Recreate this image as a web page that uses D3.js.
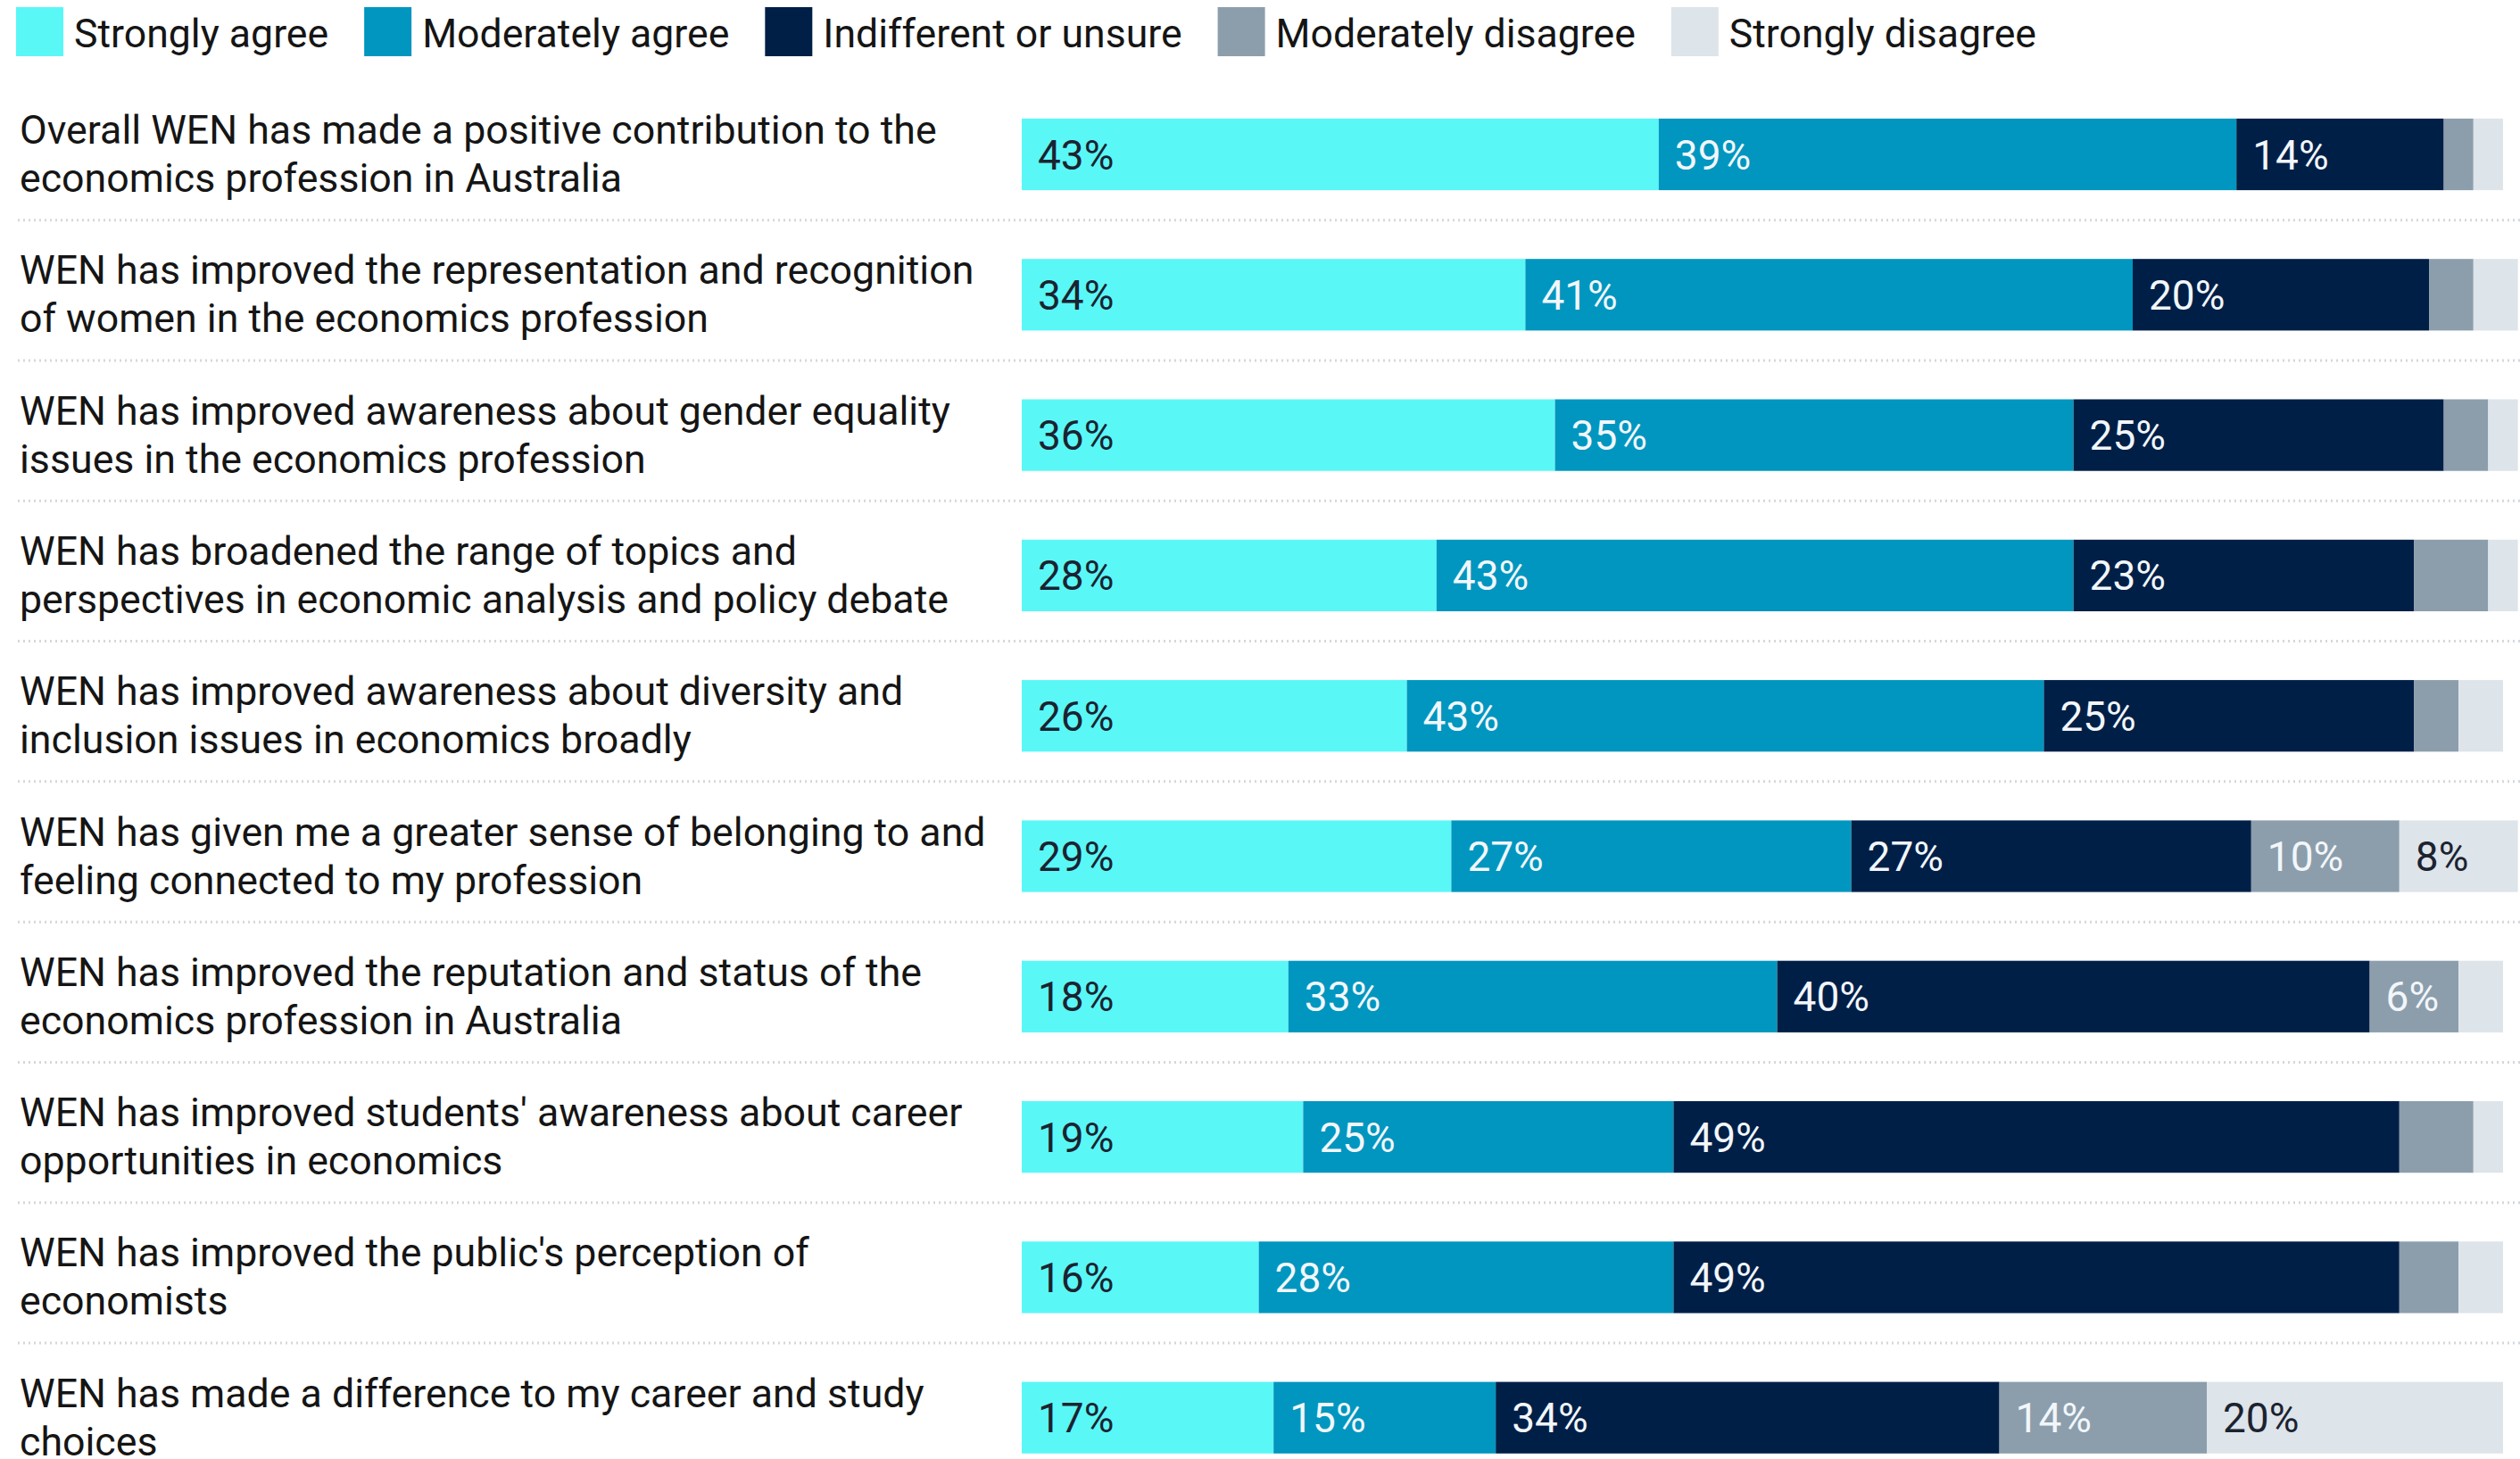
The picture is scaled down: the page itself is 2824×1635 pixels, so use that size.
<!DOCTYPE html>
<html>
<head>
<meta charset="utf-8">
<script src="https://cdn.jsdelivr.net/npm/d3@7"></script>
<style>
  body { margin: 0; background: #fff; }
  svg { display: block; font-family: Roboto, "Noto Sans", sans-serif; }
</style>
</head>
<body>
<svg width="2824" height="1635"></svg>
<script>
"use strict";

// response categories, left to right
var categories = ["Strongly agree", "Moderately agree", "Indifferent or unsure", "Moderately disagree", "Strongly disagree"];
var colors = ["#5af7f7", "#0096bf", "#001f47", "#8c9eac", "#dde4ea"];
var labelColors = ["#1b2330", "#f2f6fa", "#f2f6fa", "#f2f6fa", "#1b2330"];

// statements, each split into its two printed lines
var statements = [
  ["Overall WEN has made a positive contribution to the", "economics profession in Australia"],
  ["WEN has improved the representation and recognition", "of women in the economics profession"],
  ["WEN has improved awareness about gender equality", "issues in the economics profession"],
  ["WEN has broadened the range of topics and", "perspectives in economic analysis and policy debate"],
  ["WEN has improved awareness about diversity and", "inclusion issues in economics broadly"],
  ["WEN has given me a greater sense of belonging to and", "feeling connected to my profession"],
  ["WEN has improved the reputation and status of the", "economics profession in Australia"],
  ["WEN has improved students' awareness about career", "opportunities in economics"],
  ["WEN has improved the public's perception of", "economists"],
  ["WEN has made a difference to my career and study", "choices"]
];

// percentages per category (one value per statement)
var stronglyAgree      = [43, 34, 36, 28, 26, 29, 18, 19, 16, 17];
var moderatelyAgree    = [39, 41, 35, 43, 43, 27, 33, 25, 28, 15];
var indifferent        = [14, 20, 25, 23, 25, 27, 40, 49, 49, 34];
var moderatelyDisagree = [ 2,  3,  3,  5,  3, 10,  6,  5,  4, 14];
var stronglyDisagree   = [ 2,  3,  2,  2,  3,  8,  3,  2,  3, 20];

var series = [stronglyAgree, moderatelyAgree, indifferent, moderatelyDisagree, stronglyDisagree];

var svg = d3.select("svg");

var rows = statements.map(function(s, i) {
  var r = { id: i };
  categories.forEach(function(c, j) { r[c] = series[j][i]; });
  return r;
});

var stacked = d3.stack().keys(categories)(rows);

var x = d3.scaleLinear().domain([0, 100]).range([1145, 2805]);
var y = d3.scaleBand()
    .domain(d3.range(statements.length))
    .range([94.35, 1667.35])
    .paddingInner(0.49)
    .paddingOuter(0.245);

// dotted separators between rows
svg.append("g")
  .selectAll("line")
  .data(d3.range(statements.length - 1))
  .enter()
    .append("line")
    .attr("x1", 20)
    .attr("x2", 2824)
    .attr("y1", function(i) { return y(i) + y.bandwidth() + (y.step() - y.bandwidth()) / 2 - 5; })
    .attr("y2", function(i) { return y(i) + y.bandwidth() + (y.step() - y.bandwidth()) / 2 - 5; })
    .attr("stroke", "#d4d8dc")
    .attr("stroke-width", 3)
    .attr("stroke-dasharray", "2,4");

// statement labels
var labels = svg.append("g")
  .selectAll("text")
  .data(statements)
  .enter()
    .append("text")
    .attr("x", 22)
    .attr("y", function(d, i) { return y(i) + y.bandwidth() / 2 - 12; })
    .attr("fill", "#151515")
    .style("font-size", "44.7px");

labels.selectAll("tspan")
  .data(function(d) { return d; })
  .enter()
    .append("tspan")
    .attr("x", 22)
    .attr("dy", function(d, i) { return i === 0 ? 0 : 54; })
    .text(function(d) { return d; });

// stacked bars
var layer = svg.append("g")
  .selectAll("g")
  .data(stacked)
  .enter()
    .append("g")
    .attr("fill", function(d, i) { return colors[i]; });

layer.selectAll("rect")
  .data(function(d) { return d; })
  .enter()
    .append("rect")
    .attr("x", function(d) { return x(d[0]); })
    .attr("y", function(d) { return y(d.data.id); })
    .attr("width", function(d) { return x(d[1]) - x(d[0]); })
    .attr("height", y.bandwidth());

// value labels (small segments stay unlabelled)
stacked.forEach(function(s, k) {
  svg.append("g")
    .selectAll("text")
    .data(s.filter(function(d) { return d[1] - d[0] >= 6; }))
    .enter()
      .append("text")
      .attr("x", function(d) { return x(d[0]) + 18; })
      .attr("y", function(d) { return y(d.data.id) + y.bandwidth() / 2 + 16.5; })
      .attr("fill", labelColors[k])
      .style("font-size", "46px")
      .text(function(d) { return (d[1] - d[0]) + "%"; });
});

// legend
var legend = svg.append("g");
var lx = 18;
categories.forEach(function(c, i) {
  legend.append("rect")
    .attr("x", lx)
    .attr("y", 8)
    .attr("width", 53)
    .attr("height", 55)
    .attr("fill", colors[i]);
  var t = legend.append("text")
    .attr("x", lx + 65)
    .attr("y", 53)
    .attr("fill", "#151515")
    .style("font-size", "44.6px")
    .text(c);
  lx = lx + 65 + t.node().getComputedTextLength() + 40;
});
</script>
</body>
</html>
